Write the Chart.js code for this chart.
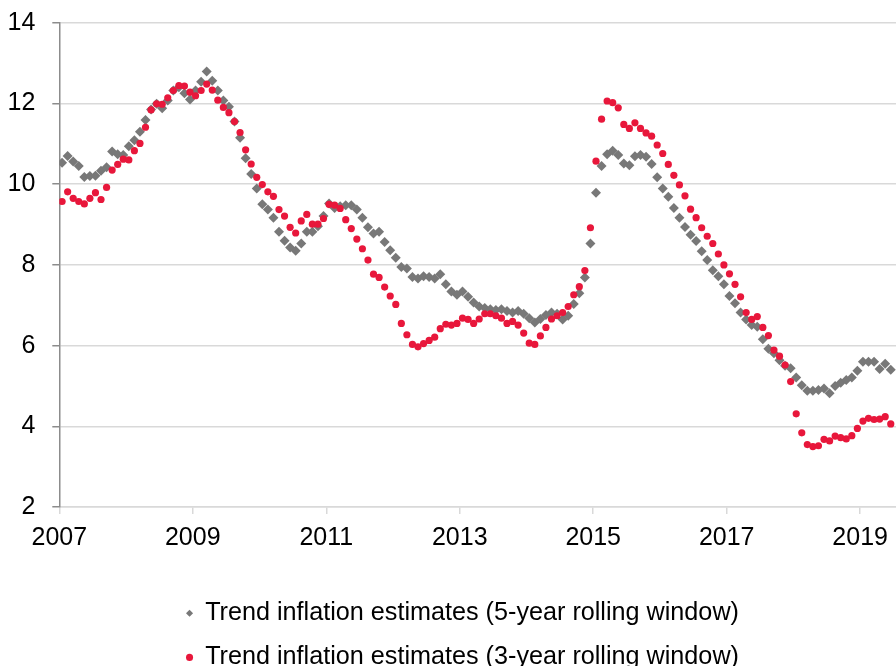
<!DOCTYPE html>
<html>
<head>
<meta charset="utf-8">
<title>Trend inflation estimates</title>
<script src="https://cdn.jsdelivr.net/npm/chart.js@4.4.1/dist/chart.umd.min.js"></script>
<style>
    html, body { margin: 0; padding: 0; background: #ffffff; overflow: hidden; }
    .chart-wrap { position: relative; width: 918px; height: 680px; }
</style>
</head>
<body>
<div class="chart-wrap"><canvas id="trendChart"></canvas></div>
<script>
// DATA (monthly, starting Jan 2007)
const startYear = 2007;
const yearLabels = ["2007", "2009", "2011", "2013", "2015", "2017", "2019"];
const seriesNames = [
    "Trend inflation estimates (5-year rolling window)",
    "Trend inflation estimates (3-year rolling window)"
];

const trend5y = [
    10.53, 10.70, 10.56, 10.45, 10.18, 10.20, 10.21, 10.33, 10.42, 10.81, 10.74, 10.72,
    10.94, 11.09, 11.30, 11.59, 11.85, 11.99, 11.88, 12.07, 12.32, 12.40, 12.25, 12.10,
    12.32, 12.54, 12.79, 12.56, 12.32, 12.07, 11.92, 11.55, 11.15, 10.64, 10.25, 9.89,
    9.50, 9.37, 9.17, 8.82, 8.60, 8.43, 8.35, 8.53, 8.82, 8.82, 8.96, 9.21,
    9.52, 9.41, 9.45, 9.48, 9.48, 9.37, 9.17, 8.93, 8.78, 8.82, 8.57, 8.36,
    8.18, 7.95, 7.91, 7.70, 7.66, 7.72, 7.70, 7.66, 7.77, 7.52, 7.34, 7.26,
    7.34, 7.21, 7.07, 6.97, 6.93, 6.90, 6.88, 6.90, 6.86, 6.82, 6.86, 6.79,
    6.68, 6.57, 6.66, 6.76, 6.82, 6.79, 6.65, 6.74, 7.03, 7.30, 7.69, 8.53,
    9.79, 10.45, 10.74, 10.83, 10.72, 10.51, 10.47, 10.69, 10.72, 10.68, 10.50, 10.17,
    9.89, 9.69, 9.41, 9.17, 8.94, 8.75, 8.59, 8.34, 8.12, 7.87, 7.72, 7.52,
    7.23, 7.05, 6.82, 6.65, 6.51, 6.47, 6.16, 5.92, 5.81, 5.64, 5.50, 5.44,
    5.21, 5.02, 4.88, 4.88, 4.90, 4.94, 4.82, 5.00, 5.08, 5.15, 5.21, 5.38,
    5.60, 5.60, 5.60, 5.42, 5.55, 5.40
];

const trend3y = [
    9.57, 9.81, 9.65, 9.57, 9.51, 9.65, 9.79, 9.62, 9.92, 10.35, 10.49, 10.62,
    10.60, 10.83, 11.01, 11.41, 11.84, 11.99, 11.98, 12.14, 12.32, 12.44, 12.43, 12.28,
    12.19, 12.32, 12.48, 12.33, 12.08, 11.90, 11.77, 11.55, 11.28, 10.85, 10.50, 10.17,
    9.99, 9.81, 9.70, 9.37, 9.21, 8.93, 8.79, 9.09, 9.25, 9.01, 9.01, 9.15,
    9.50, 9.48, 9.40, 9.12, 8.90, 8.64, 8.40, 8.12, 7.77, 7.69, 7.45, 7.23,
    7.02, 6.55, 6.27, 6.03, 5.97, 6.05, 6.13, 6.21, 6.42, 6.53, 6.51, 6.55,
    6.68, 6.65, 6.55, 6.66, 6.79, 6.79, 6.74, 6.68, 6.55, 6.60, 6.51, 6.31,
    6.06, 6.03, 6.24, 6.45, 6.66, 6.74, 6.82, 6.97, 7.26, 7.46, 7.86, 8.92,
    10.57, 11.61, 12.06, 12.02, 11.89, 11.48, 11.38, 11.52, 11.38, 11.27, 11.19, 10.97,
    10.76, 10.49, 10.22, 9.98, 9.71, 9.38, 9.17, 8.92, 8.71, 8.53, 8.27, 8.00,
    7.78, 7.52, 7.21, 6.82, 6.65, 6.72, 6.45, 6.25, 5.89, 5.74, 5.52, 5.11,
    4.31, 3.84, 3.55, 3.50, 3.52, 3.68, 3.64, 3.76, 3.72, 3.69, 3.77, 3.95,
    4.13, 4.20, 4.17, 4.18, 4.24, 4.06
];

// months since Jan 2007, each point sits in the middle of its month
function toPoints(values) {
    return values.map((v, i) => ({ x: i + 0.5, y: v }));
}

Chart.defaults.font.family = "'Liberation Sans', Arial, sans-serif";
Chart.defaults.font.size = 25;
Chart.defaults.color = "#000000";

const GREY = "#787878";
const RED = "#e8173b";

const ctx = document.getElementById("trendChart").getContext("2d");
new Chart(ctx, {
    type: "scatter",
    data: {
        datasets: [
            {
                label: seriesNames[0],
                data: toPoints(trend5y),
                pointStyle: "rectRot",
                pointRadius: 5,
                pointBorderWidth: 0,
                backgroundColor: GREY,
                borderColor: GREY,
                order: 2
            },
            {
                label: seriesNames[1],
                data: toPoints(trend3y),
                pointStyle: "circle",
                pointRadius: 3.6,
                pointBorderWidth: 0,
                backgroundColor: RED,
                borderColor: RED,
                order: 1
            }
        ]
    },
    options: {
        responsive: true,
        maintainAspectRatio: false,
        animation: false,
        layout: {
            padding: { top: 22.7, left: 7.5, right: 0, bottom: 0 }
        },
        plugins: {
            tooltip: { enabled: false },
            legend: {
                position: "bottom",
                labels: {
                    usePointStyle: true,
                    boxWidth: 6,
                    boxHeight: 5,
                    padding: 19,
                    color: "#000000",
                    font: { size: 25.2 },
                    sort: (a, b) => a.datasetIndex - b.datasetIndex
                }
            }
        },
        scales: {
            x: {
                type: "linear",
                min: 0,
                max: 153.5,
                ticks: {
                    stepSize: 24,
                    includeBounds: false,
                    autoSkip: false,
                    maxRotation: 0,
                    padding: 9,
                    callback: (value) => yearLabels[value / 24]
                },
                grid: {
                    drawOnChartArea: false,
                    drawTicks: true,
                    tickLength: 7,
                    color: "#d9d9d9",
                    tickColor: "#d9d9d9",
                    lineWidth: 1.5
                },
                border: { color: "#d9d9d9", width: 1.5 },
                afterFit: (scale) => { scale.height = 74.5; }
            },
            y: {
                min: 2,
                max: 14,
                ticks: { stepSize: 2, padding: 17 },
                grid: {
                    color: "#d9d9d9",
                    tickColor: "#8c8c8c",
                    tickLength: 7,
                    lineWidth: 1.5
                },
                border: { color: "#8c8c8c", width: 1.5 },
                afterFit: (scale) => {
                    scale.width = 51.8;
                    scale.paddingTop = 0;
                    scale.paddingBottom = 0;
                }
            }
        }
    }
});
</script>
</body>
</html>
